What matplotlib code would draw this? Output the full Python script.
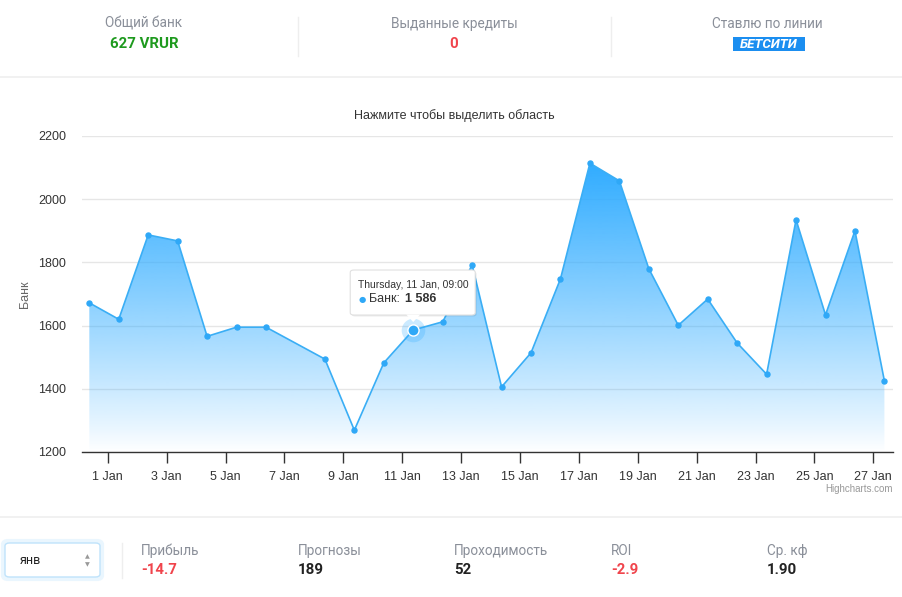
import numpy as np
import matplotlib
matplotlib.use("Agg")
import matplotlib.pyplot as plt
import matplotlib.dates as mdates
from matplotlib.patches import FancyBboxPatch, Rectangle, Polygon
from datetime import datetime

# --- data ---
dates = ["2017-12-31 09:00", "2018-01-01 09:00", "2018-01-02 09:00", "2018-01-03 09:00",
         "2018-01-04 09:00", "2018-01-05 09:00", "2018-01-06 09:00", "2018-01-08 09:00",
         "2018-01-09 09:00", "2018-01-10 09:00", "2018-01-11 09:00", "2018-01-12 09:00",
         "2018-01-13 09:00", "2018-01-14 09:00", "2018-01-15 09:00", "2018-01-16 09:00",
         "2018-01-17 09:00", "2018-01-18 09:00", "2018-01-19 09:00", "2018-01-20 09:00",
         "2018-01-21 09:00", "2018-01-22 09:00", "2018-01-23 09:00", "2018-01-24 09:00",
         "2018-01-25 09:00", "2018-01-26 09:00", "2018-01-27 09:00"]
bank = [1672, 1620, 1887, 1868, 1566, 1595, 1595, 1494, 1269, 1482, 1586, 1612, 1792, 1406,
        1514, 1748, 2114, 2058, 1780, 1601, 1684, 1545, 1446, 1935, 1634, 1900, 1425]
hover_index = 10

header_labels = ["Общий банк", "Выданные кредиты", "Ставлю по линии"]
header_values = ["627 VRUR", "0"]
stat_labels = ["Прибыль", "Прогнозы", "Проходимость", "ROI", "Ср. кф"]
stat_values = ["-14.7", "189", "52", "-2.9", "1.90"]
stat_colors = ["#f0444c", "#222222", "#222222", "#f0444c", "#222222"]

W, H = 903, 597
fig = plt.figure(figsize=(W / 100, H / 100), dpi=100)
fig.patch.set_facecolor("white")


def fx(x):
    return x / W


def fy(y):
    return 1 - y / H


UI = ["Roboto", "DejaVu Sans"]
HC = ["Liberation Sans", "DejaVu Sans"]

# --- header ---
for cx, lab in zip([144, 454, 767], header_labels):
    fig.text(fx(cx), fy(24), lab, ha="center", va="center", fontsize=9.8,
             color="#8a8f99", family=UI)
fig.text(fx(144), fy(44), header_values[0], ha="center", va="center", fontsize=10.8,
         color="#1e9a1e", fontweight="bold", family=UI)
fig.text(fx(454), fy(44), header_values[1], ha="center", va="center", fontsize=10.8,
         color="#f0444c", fontweight="bold", family=UI)
fig.add_artist(Rectangle((fx(733), fy(51)), fx(805) - fx(733), fy(37) - fy(51),
                         transform=fig.transFigure, facecolor="#1b8ef0", edgecolor="none"))
fig.text(fx(769), fy(44.5), "БЕТСИТИ", ha="center", va="center", fontsize=9.5,
         color="white", fontweight="bold", style="italic", family=UI)
for sx in [298, 611]:
    fig.add_artist(plt.Line2D([fx(sx), fx(sx)], [fy(17), fy(56)], color="#eeeeee", lw=1))
for ly in [77, 517]:
    fig.add_artist(plt.Line2D([0, 1], [fy(ly), fy(ly)], color="#efefef", lw=1.2))

# --- chart ---
x = mdates.date2num([datetime.strptime(d, "%Y-%m-%d %H:%M") for d in dates])
v = np.array(bank, dtype=float)
ymin, ymax = 1200, 2200

ax = fig.add_axes([fx(82), fy(452), fx(893) - fx(82), fy(136) - fy(452)])
t0 = mdates.date2num(datetime(2018, 1, 1))
ax.set_xlim(t0 - 0.873, t0 + 26.667)
ax.set_ylim(ymin, ymax)

ax.set_yticks([1200, 1400, 1600, 1800, 2000, 2200])
ax.grid(axis="y", color="#e6e6e6", lw=1)
ax.set_axisbelow(True)
ax.xaxis.set_major_locator(mdates.DayLocator(bymonthday=range(1, 32, 2)))
ax.xaxis.set_major_formatter(mdates.DateFormatter("%-d %b"))
for s in ["top", "right", "left"]:
    ax.spines[s].set_visible(False)
ax.spines["bottom"].set_color("#333333")
ax.spines["bottom"].set_linewidth(1)
ax.tick_params(axis="x", length=8, width=1, color="#333333", pad=6,
               labelsize=9, labelcolor="#333333")
ax.tick_params(axis="y", length=0, pad=11.5, labelsize=9, labelcolor="#333333")
for lab in ax.get_xticklabels() + ax.get_yticklabels():
    lab.set_family(HC)
ax.set_ylabel("Банк", fontsize=9, color="#666666", family=HC, labelpad=5)

# gradient area
verts = np.column_stack([np.r_[x, x[-1], x[0]], np.r_[v, ymin, ymin]])
poly = Polygon(verts, closed=True, facecolor="none", edgecolor="none")
ax.add_patch(poly)
n = 256
grad = np.zeros((n, 1, 4))
grad[:, 0, 0] = 48 / 255
grad[:, 0, 1] = 172 / 255
grad[:, 0, 2] = 1.0
grad[:, 0, 3] = np.linspace(0.0, 1.0, n) ** 0.9
im = ax.imshow(grad, extent=[x[0], x[-1], ymin, v.max()], origin="lower",
               aspect="auto", zorder=2, interpolation="bilinear")
im.set_clip_path(poly)

ax.plot(x, v, color="#3aaef5", lw=1.2, zorder=3)
ax.plot(x, v, "o", ms=3.6, color="#2fa8f7", zorder=4)

# hovered point
hx, hv = x[hover_index], v[hover_index]
ax.plot(hx, hv, "o", ms=17, color="#33adff", alpha=0.25, mec="none", zorder=5)
ax.plot(hx, hv, "o", ms=8, color="#2fa8f7", mec="white", mew=1, zorder=6)

fig.text(fx(454), fy(116), "Нажмите чтобы выделить область", fontsize=9,
         color="#333333", family=HC, ha="center", va="center")

# tooltip
px, py = ax.transData.transform((hx, hv))
py = H - py  # top-origin pixels
bx0, bx1, by0, by1 = px - 63, px + 62, py - 60, py - 15
fig.add_artist(FancyBboxPatch((fx(bx0) + 0.0015, fy(by1) - 0.0025), fx(bx1) - fx(bx0),
                              fy(by0) - fy(by1), boxstyle="round,pad=0,rounding_size=0.004",
                              transform=fig.transFigure, facecolor="#000000", alpha=0.08,
                              edgecolor="none", zorder=10))
fig.add_artist(FancyBboxPatch((fx(bx0), fy(by1)), fx(bx1) - fx(bx0), fy(by0) - fy(by1),
                              boxstyle="round,pad=0,rounding_size=0.004",
                              transform=fig.transFigure, facecolor="white",
                              edgecolor="#e0e0e0", lw=0.8, zorder=11))
fig.add_artist(Polygon([[fx(px - 7), fy(by1 - 0.5)], [fx(px + 7), fy(by1 - 0.5)],
                        [fx(px), fy(by1 + 7)]], closed=True, transform=fig.transFigure,
                       facecolor="white", edgecolor="none", zorder=12))
fig.text(fx(bx0 + 8), fy(by0 + 15), "Thursday, 11 Jan, 09:00", fontsize=7.5,
         color="#333333", family=HC, va="center", ha="left", zorder=13)
fig.text(fx(bx0 + 8), fy(by0 + 29), "●", fontsize=6, color="#2fa8f7",
         family=["DejaVu Sans"], va="center", ha="left", zorder=13)
fig.text(fx(bx0 + 19), fy(by0 + 29), "Банк:", fontsize=9, color="#333333",
         family=HC, va="center", ha="left", zorder=13)
fig.text(fx(bx0 + 55), fy(by0 + 29), "1 586", fontsize=9, color="#333333",
         family=HC, va="center", ha="left", fontweight="bold", zorder=13)

fig.text(fx(893), fy(489), "Highcharts.com", fontsize=7, color="#999999",
         family=HC, ha="right", va="center")

# --- bottom stats ---
fig.add_artist(FancyBboxPatch((fx(3), fy(579)), fx(99), fy(541) - fy(579),
                              boxstyle="round,pad=0,rounding_size=0.006",
                              transform=fig.transFigure, facecolor="none",
                              edgecolor="#eaf6fe", lw=3))
fig.add_artist(FancyBboxPatch((fx(5), fy(577)), fx(95), fy(543) - fy(577),
                              boxstyle="round,pad=0,rounding_size=0.005",
                              transform=fig.transFigure, facecolor="white",
                              edgecolor="#bfe3fb", lw=1))
fig.text(fx(20), fy(561), "янв", fontsize=9, color="#222222", family=UI, va="center")
fig.text(fx(87), fy(557), "▲", fontsize=4.5, color="#999999", family=["DejaVu Sans"],
         ha="center", va="center")
fig.text(fx(87), fy(565), "▼", fontsize=4.5, color="#999999", family=["DejaVu Sans"],
         ha="center", va="center")
fig.add_artist(plt.Line2D([fx(122), fx(122)], [fy(543), fy(578)], color="#eeeeee", lw=1))

for sx, lab, val, col in zip([141, 298, 454, 611, 767], stat_labels, stat_values, stat_colors):
    fig.text(fx(sx), fy(551), lab, fontsize=9.8, color="#8a8f99", family=UI,
             ha="left", va="center")
    fig.text(fx(sx), fy(570), val, fontsize=10.8, color=col, family=UI,
             ha="left", va="center", fontweight="bold")

fig.savefig("out.png", dpi=100, facecolor="white")
